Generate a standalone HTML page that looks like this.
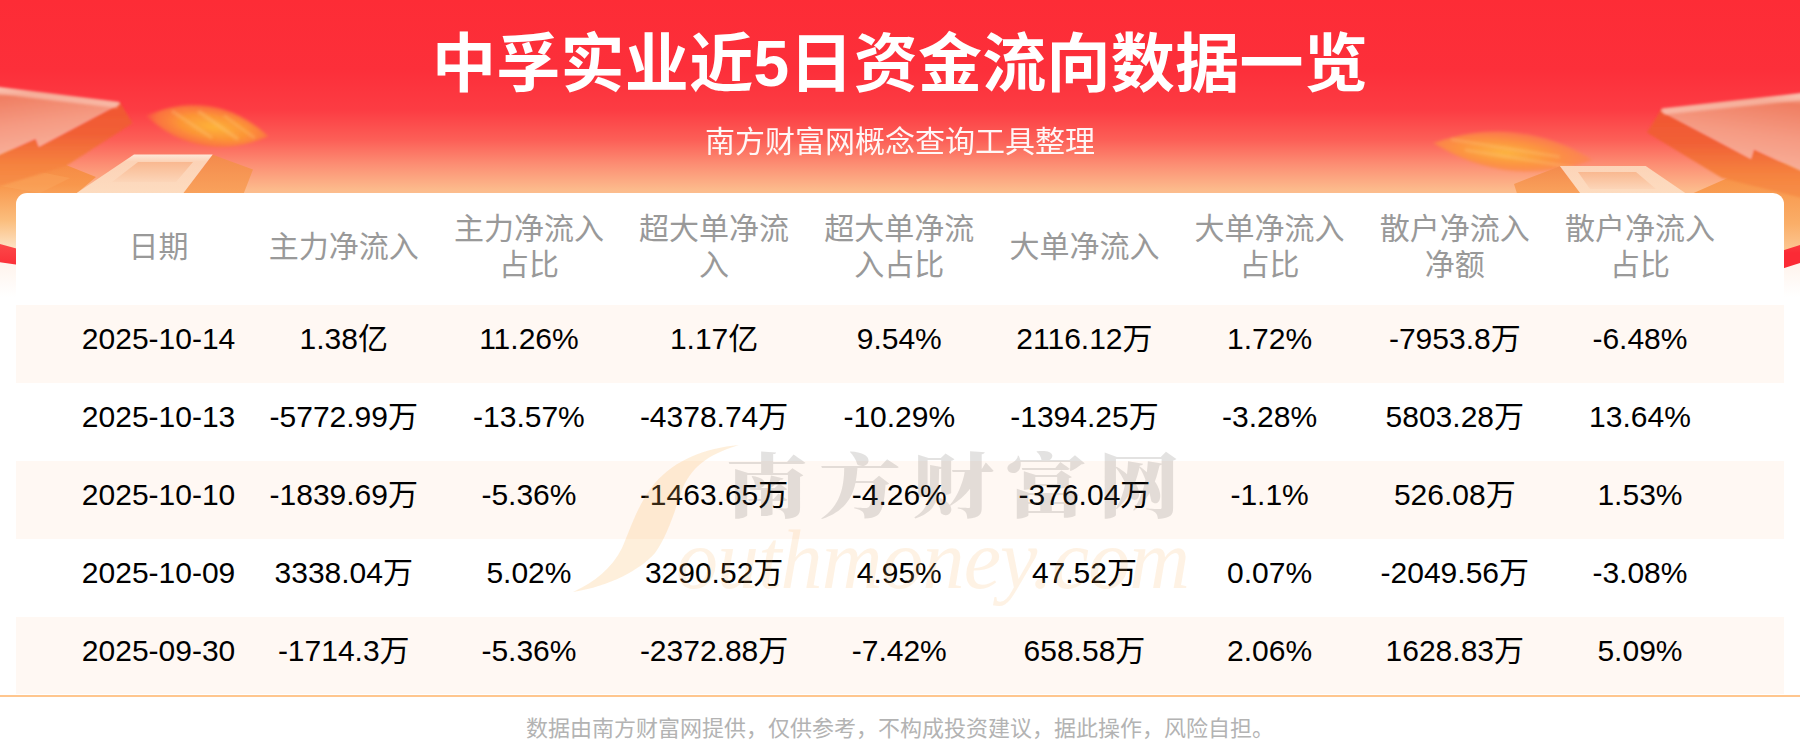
<!DOCTYPE html>
<html lang="zh-CN">
<head>
<meta charset="utf-8">
<title>中孚实业近5日资金流向数据一览</title>
<style>
html,body{margin:0;padding:0;}
body{width:1800px;height:743px;overflow:hidden;background:#fff;position:relative;
  font-family:"Liberation Sans","Noto Sans CJK SC",sans-serif;}
#hero{position:absolute;left:0;top:0;width:1800px;height:330px;
  background:linear-gradient(180deg,#fd2c36 0px,#fc2f3a 70px,#fc3c43 110px,#fc5f57 140px,#fc8f74 165px,#fcbb8c 190px,#fcc392 200px,#ffffff 201px,#ffffff 330px);}
#deco{position:absolute;left:0;top:0;width:1800px;height:330px;}
h1{position:absolute;left:0;top:24px;width:1800px;margin:0;text-align:center;color:#fff;
  font-size:64px;line-height:80px;font-weight:700;letter-spacing:0.3px;}
.sub{position:absolute;left:0;top:123px;width:1800px;text-align:center;color:#fff;opacity:.95;
  font-size:30px;line-height:38px;}
#card{position:absolute;left:16px;top:193px;width:1768px;height:501px;background:#fff;border-radius:11px 11px 0 0;overflow:hidden;}
.row{display:flex;padding:0 51.5px 0 50px;height:78px;align-items:center;}
.row.h{height:112px;color:#999;}
.row.t{background:#fff8f3;}
.row div{flex:1 1 0;text-align:center;font-size:30px;line-height:36px;color:#000;white-space:nowrap;position:relative;top:-5.5px;}
.row.h div{color:#999;white-space:normal;top:-2px;}
#line{position:absolute;left:0;top:695px;width:1800px;height:2px;background:#ffc68e;}
#foot{position:absolute;left:0;top:711.5px;width:1800px;text-align:center;font-size:22px;line-height:34px;color:#b3b3b3;}
#wm{position:absolute;left:540px;top:430px;width:700px;height:200px;pointer-events:none;}
</style>
</head>
<body>
<div id="hero"></div>
<svg id="deco" width="1800" height="330" viewBox="0 0 1800 330">
<defs>
  <linearGradient id="gTopL" x1="0" y1="0" x2="0.25" y2="1">
    <stop offset="0" stop-color="#f9b6a2"/><stop offset="0.16" stop-color="#f07e62"/><stop offset="0.55" stop-color="#f59a82"/><stop offset="1" stop-color="#f9b29c"/>
  </linearGradient>
  <linearGradient id="gTopR" x1="1" y1="0" x2="0.75" y2="1">
    <stop offset="0" stop-color="#f9b6a2"/><stop offset="0.16" stop-color="#f07e62"/><stop offset="0.55" stop-color="#f59a82"/><stop offset="1" stop-color="#f9b29c"/>
  </linearGradient>
  <linearGradient id="gSide" x1="0" y1="0" x2="0" y2="1">
    <stop offset="0" stop-color="#f15631"/><stop offset="0.35" stop-color="#f15f36"/><stop offset="0.72" stop-color="#f5833f"/><stop offset="1" stop-color="#f7914a"/>
  </linearGradient>
  <linearGradient id="gGround" x1="0" y1="150" x2="0" y2="250" gradientUnits="userSpaceOnUse">
    <stop offset="0" stop-color="#f4813f"/><stop offset="0.35" stop-color="#f8974c"/><stop offset="0.7" stop-color="#fbbd7c"/><stop offset="1" stop-color="#fde6cb"/>
  </linearGradient>
  <linearGradient id="gGroundR" x1="0" y1="150" x2="0" y2="255" gradientUnits="userSpaceOnUse">
    <stop offset="0" stop-color="#f4813f"/><stop offset="0.33" stop-color="#f8974c"/><stop offset="0.7" stop-color="#faae68"/><stop offset="1" stop-color="#fccb9a"/>
  </linearGradient>
  <linearGradient id="gBandR" x1="0" y1="0" x2="0" y2="1">
    <stop offset="0" stop-color="#fb3a3e"/><stop offset="0.3" stop-color="#fb2a35"/><stop offset="1" stop-color="#fb2a35"/>
  </linearGradient>
  <linearGradient id="gPlate" x1="0" y1="154" x2="0" y2="193" gradientUnits="userSpaceOnUse">
    <stop offset="0" stop-color="#fde9da"/><stop offset="0.2" stop-color="#fcd2b6"/><stop offset="1" stop-color="#fddcc0"/>
  </linearGradient>
  <linearGradient id="gInner" x1="0" y1="0" x2="0" y2="1">
    <stop offset="0" stop-color="#f9b890"/><stop offset="1" stop-color="#fcd5b8"/>
  </linearGradient>
  <linearGradient id="gPlateSide" x1="0" y1="0" x2="0" y2="1">
    <stop offset="0" stop-color="#f48a4c"/><stop offset="1" stop-color="#f9a25c"/>
  </linearGradient>
  <radialGradient id="gGlow" cx="0.55" cy="0.5" r="0.62">
    <stop offset="0" stop-color="#fdb338" stop-opacity="1"/><stop offset="0.45" stop-color="#fc9436" stop-opacity="1"/><stop offset="0.75" stop-color="#fb7a3c" stop-opacity="0.85"/><stop offset="0.92" stop-color="#fb5a40" stop-opacity="0.3"/><stop offset="1" stop-color="#fb4a3a" stop-opacity="0"/>
  </radialGradient>
  <radialGradient id="gGlow2" cx="0.45" cy="0.55" r="0.66">
    <stop offset="0" stop-color="#fdb440" stop-opacity="1"/><stop offset="0.45" stop-color="#fc953e" stop-opacity="0.95"/><stop offset="0.78" stop-color="#fc8648" stop-opacity="0.7"/><stop offset="0.93" stop-color="#fc7a50" stop-opacity="0.25"/><stop offset="1" stop-color="#fc6a4a" stop-opacity="0"/>
  </radialGradient>
  <linearGradient id="gBand" x1="0" y1="0" x2="0" y2="1">
    <stop offset="0" stop-color="#fc4a4a"/><stop offset="1" stop-color="#fb2c36"/>
  </linearGradient>
  <linearGradient id="gFade" x1="0" y1="0" x2="0" y2="1"><stop offset="0" stop-color="#fff1e8"/><stop offset="1" stop-color="#ffffff"/></linearGradient>
  <filter id="b1" x="-10%" y="-10%" width="120%" height="120%"><feGaussianBlur stdDeviation="0.8"/></filter>
  <filter id="b2" x="-20%" y="-40%" width="140%" height="180%"><feGaussianBlur stdDeviation="1.6"/></filter>
  <filter id="b3" x="-20%" y="-40%" width="140%" height="180%"><feGaussianBlur stdDeviation="2.5"/></filter>
</defs>

<rect x="0" y="255" width="1800" height="42" fill="url(#gFade)"/>
<!-- LEFT -->
<g>
  <polygon points="-5,148 70,150 66,165 96,177 70,199 40,199 40,256 -5,243" fill="url(#gGround)"/>
  <polygon points="-5,261.5 -5,242.6 40,255 40,268" fill="url(#gBand)"/>
  <polygon points="30,170 70,178 40,193 0,186 0,176" fill="#fbab63" opacity="0.35"/>
  <polygon points="120.3,103 132.4,123.3 66,166 -10,189 -10,159 35.5,139 38.8,147" fill="url(#gSide)" filter="url(#b1)"/>
  <polygon points="-10,86.3 119.5,102.4 120.5,104 38.8,147 35.5,139 -10,159" fill="url(#gTopL)" filter="url(#b1)"/>
  <polygon points="-10,86 119.5,102 117,108 -10,93" fill="#fcd6c8" opacity="0.55" filter="url(#b2)"/>
  <g transform="rotate(9.5 207 126)">
    <path d="M145,126 Q207,86 269,126 Q207,166 145,126 Z" fill="url(#gGlow)" filter="url(#b2)"/>
    <g filter="url(#b2)" opacity="0.32">
      <path d="M170 117 L214 137" stroke="#fdd28a" stroke-width="3" fill="none"/>
      <path d="M196 113 L240 134" stroke="#fdd28a" stroke-width="3.5" fill="none"/>
      <path d="M222 113 L256 130" stroke="#fdd28a" stroke-width="2.5" fill="none"/>
    </g>
  </g>
  <polygon points="212.7,154.8 253,169.6 243.7,193.5 183,193.5" fill="url(#gPlateSide)"/>
  <polygon points="134,154.5 212.7,154.5 183,193.5 76,193.5" fill="url(#gPlate)"/>
  <polygon points="138,162 193,162 176,182 112,182" fill="url(#gInner)"/>
</g>

<!-- RIGHT -->
<g>
  <polygon points="1805,160 1740,168 1730,177 1680,199 1760,199 1760,258 1805,245.6" fill="url(#gGroundR)"/>
  <polygon points="1805,243.5 1805,261.5 1760,275.5 1760,257.5" fill="url(#gBandR)"/>
  <polygon points="1661,110 1647,132.5 1722,178 1810,200 1810,175 1754,149.4 1751,159" fill="url(#gSide)" filter="url(#b1)"/>
  <polygon points="1810,92.6 1661.5,109 1660.5,111.5 1751,159 1754,149.4 1810,175" fill="url(#gTopR)" filter="url(#b1)"/>
  <polygon points="1810,92.3 1661.5,108.5 1664,114.5 1810,99.5" fill="#fcd6c8" opacity="0.55" filter="url(#b2)"/>
  <g transform="rotate(6 1513 151.5)">
    <path d="M1433,151.5 Q1513,113 1593,151.5 Q1513,190 1433,151.5 Z" fill="url(#gGlow2)" filter="url(#b2)"/>
    <g filter="url(#b2)" opacity="0.3">
      <path d="M1450 146 L1560 152" stroke="#fdd28a" stroke-width="2.5" fill="none"/>
      <path d="M1465 155 L1575 161" stroke="#fdd28a" stroke-width="2.5" fill="none"/>
    </g>
  </g>
  <polygon points="1559.9,166.2 1514,184 1517,193.5 1580.6,193.5" fill="url(#gPlateSide)"/>
  <polygon points="1559.9,166 1645.7,166 1686,193.5 1580.6,193.5" fill="url(#gPlate)"/>
  <polygon points="1578,172 1636,172 1656,189 1590,189" fill="url(#gInner)"/>
</g>
</svg>
<h1>中孚实业近5日资金流向数据一览</h1>
<div class="sub">南方财富网概念查询工具整理</div>
<div id="card">
  <div class="row h"><div>日期</div><div>主力净流入</div><div>主力净流入<br>占比</div><div>超大单净流<br>入</div><div>超大单净流<br>入占比</div><div>大单净流入</div><div>大单净流入<br>占比</div><div>散户净流入<br>净额</div><div>散户净流入<br>占比</div></div>
  <div class="row t"><div>2025-10-14</div><div>1.38亿</div><div>11.26%</div><div>1.17亿</div><div>9.54%</div><div>2116.12万</div><div>1.72%</div><div>-7953.8万</div><div>-6.48%</div></div>
  <div class="row"><div>2025-10-13</div><div>-5772.99万</div><div>-13.57%</div><div>-4378.74万</div><div>-10.29%</div><div>-1394.25万</div><div>-3.28%</div><div>5803.28万</div><div>13.64%</div></div>
  <div class="row t"><div>2025-10-10</div><div>-1839.69万</div><div>-5.36%</div><div>-1463.65万</div><div>-4.26%</div><div>-376.04万</div><div>-1.1%</div><div>526.08万</div><div>1.53%</div></div>
  <div class="row"><div>2025-10-09</div><div>3338.04万</div><div>5.02%</div><div>3290.52万</div><div>4.95%</div><div>47.52万</div><div>0.07%</div><div>-2049.56万</div><div>-3.08%</div></div>
  <div class="row t"><div>2025-09-30</div><div>-1714.3万</div><div>-5.36%</div><div>-2372.88万</div><div>-7.42%</div><div>658.58万</div><div>2.06%</div><div>1628.83万</div><div>5.09%</div></div>
</div>
<svg id="wm" width="700" height="200" viewBox="540 430 700 200">
  <path d="M739,445 C705,448 675,460 655,483 C638,503 630,530 622,548 C612,568 595,582 573,592 C610,586 640,570 655,553 C668,535 675,510 682,490 C690,470 705,455 739,445 Z" fill="#fbb45c" fill-opacity="0.22"/>
  <text x="676" y="588" textLength="514" lengthAdjust="spacing" font-family="'Liberation Serif','DejaVu Serif',serif" font-style="italic" font-size="84" fill="#fbb45c" fill-opacity="0.17">outhmoney.com</text>
  <g transform="translate(726 0) scale(1.17 1)">
    <text x="0" y="512" textLength="388" lengthAdjust="spacing" font-family="'Noto Serif CJK SC','Noto Sans CJK SC',serif" font-weight="900" font-size="70" fill="#5a5350" fill-opacity="0.17">南方财富网</text>
  </g>
</svg>
<div id="line"></div>
<div id="foot">数据由南方财富网提供，仅供参考，不构成投资建议，据此操作，风险自担。</div>
</body>
</html>
